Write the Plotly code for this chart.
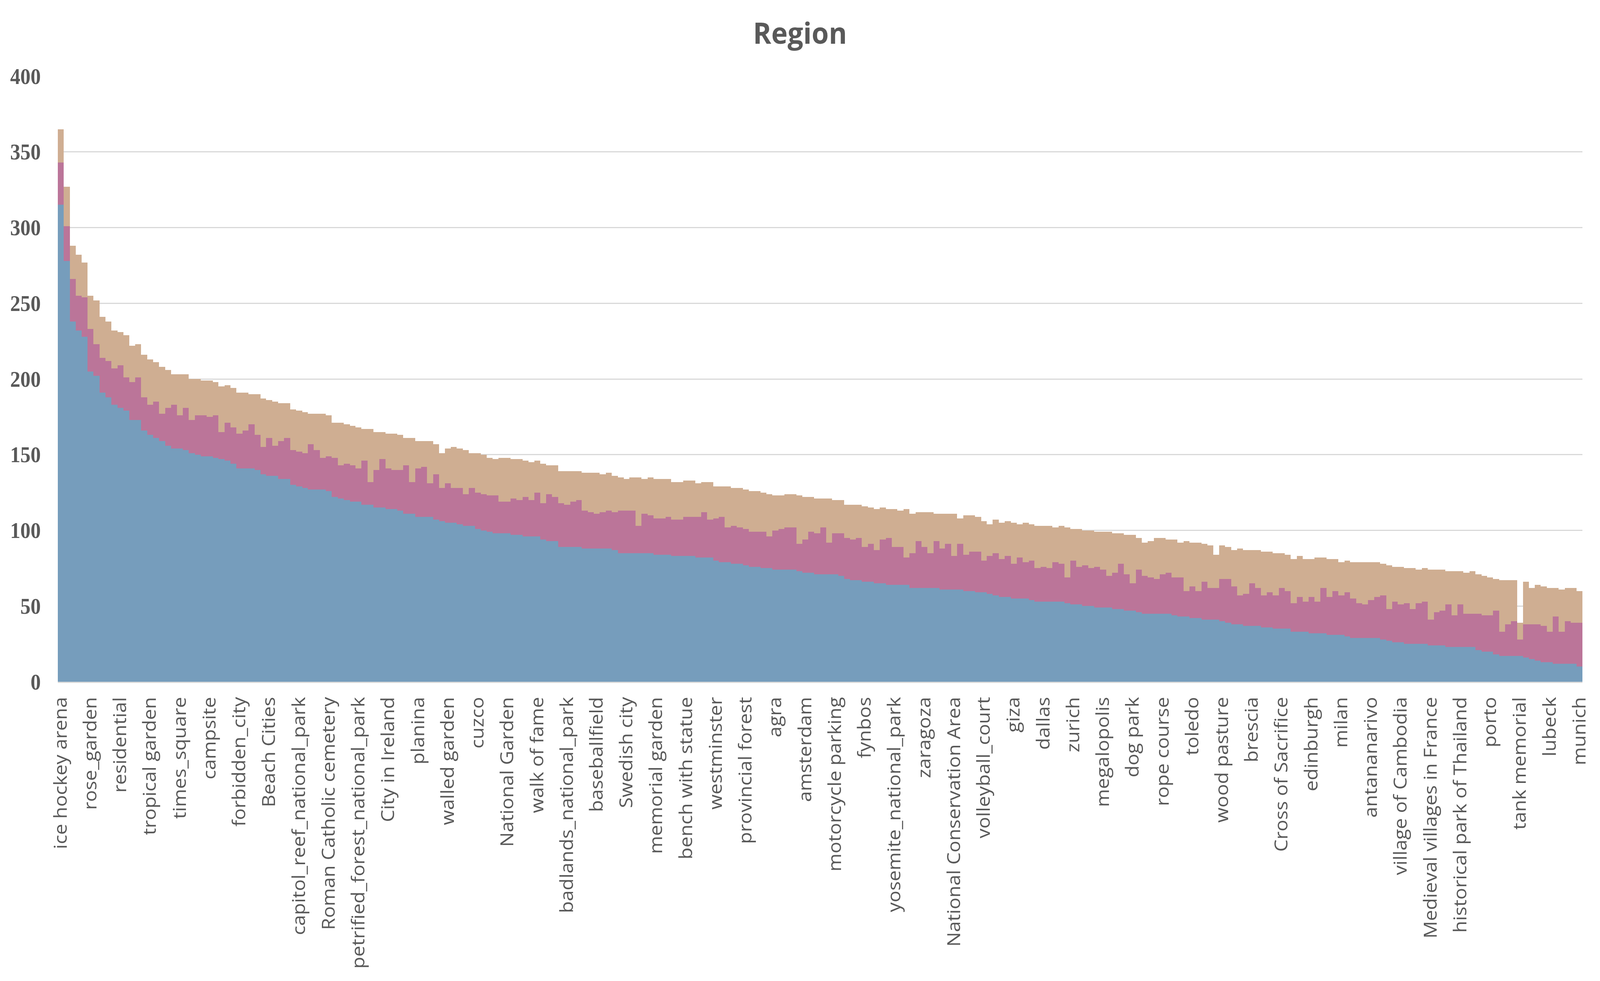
import plotly.graph_objects as go

# ---- data ----
blue = [315, 278, 238, 232, 228, 205, 202, 191, 188, 183,
        181, 179, 173, 173, 166, 163, 161, 159, 156, 154,
        154, 153, 151, 150, 149, 149, 148, 147, 146, 144,
        141, 141, 141, 140, 137, 136, 136, 134, 134, 130,
        129, 128, 127, 127, 127, 126, 122, 121, 120, 119,
        119, 117, 117, 115, 115, 114, 114, 113, 111, 111,
        109, 109, 109, 107, 106, 105, 105, 104, 103, 103,
        101, 100, 99, 98, 98, 98, 97, 97, 96, 96,
        96, 94, 93, 93, 89, 89, 89, 89, 88, 88,
        88, 88, 88, 87, 85, 85, 85, 85, 85, 85,
        84, 84, 84, 83, 83, 83, 83, 82, 82, 82,
        80, 79, 79, 78, 78, 77, 76, 76, 75, 75,
        74, 74, 74, 74, 73, 72, 72, 71, 71, 71,
        71, 70, 68, 67, 67, 66, 66, 65, 65, 64,
        64, 64, 64, 62, 62, 62, 62, 62, 61, 61,
        61, 61, 60, 60, 59, 59, 58, 57, 56, 56,
        55, 55, 55, 54, 53, 53, 53, 53, 53, 52,
        51, 51, 50, 50, 49, 49, 49, 48, 48, 47,
        47, 46, 45, 45, 45, 45, 45, 44, 43, 43,
        42, 42, 41, 41, 41, 40, 39, 38, 38, 37,
        37, 37, 36, 36, 35, 35, 35, 33, 33, 33,
        32, 32, 32, 31, 31, 31, 30, 29, 29, 29,
        29, 29, 28, 27, 26, 26, 25, 25, 25, 25,
        24, 24, 24, 23, 23, 23, 23, 23, 21, 20,
        20, 18, 17, 17, 17, 17, 16, 15, 14, 13,
        13, 12, 12, 12, 12, 10]

pink = [28, 23, 28, 23, 26, 28, 21, 23, 24, 24,
        28, 22, 25, 28, 22, 20, 24, 18, 25, 29,
        22, 28, 22, 26, 27, 26, 28, 18, 25, 24,
        23, 25, 29, 23, 18, 25, 20, 25, 27, 23,
        23, 23, 30, 26, 21, 23, 26, 22, 24, 24,
        22, 29, 15, 25, 32, 27, 26, 27, 32, 21,
        32, 33, 22, 30, 22, 26, 23, 24, 21, 25,
        24, 24, 24, 25, 21, 21, 24, 23, 26, 24,
        29, 24, 31, 29, 29, 28, 30, 31, 25, 24,
        23, 24, 25, 25, 28, 28, 28, 18, 26, 25,
        24, 24, 25, 24, 24, 26, 26, 27, 30, 25,
        28, 30, 23, 25, 24, 24, 23, 23, 24, 21,
        26, 27, 28, 28, 18, 22, 27, 27, 31, 21,
        27, 28, 27, 27, 28, 23, 25, 22, 29, 31,
        25, 25, 18, 23, 31, 27, 23, 31, 27, 30,
        22, 30, 24, 26, 27, 21, 25, 28, 25, 27,
        23, 27, 24, 26, 22, 23, 22, 26, 25, 17,
        29, 25, 27, 25, 27, 25, 21, 24, 30, 24,
        18, 28, 25, 24, 23, 26, 27, 25, 26, 17,
        21, 18, 25, 21, 21, 28, 29, 25, 19, 21,
        28, 25, 21, 23, 22, 27, 25, 19, 23, 20,
        24, 21, 30, 25, 29, 26, 29, 26, 23, 22,
        25, 27, 29, 21, 27, 25, 27, 23, 27, 28,
        17, 22, 23, 28, 21, 28, 22, 22, 24, 24,
        24, 29, 16, 21, 23, 11, 22, 23, 24, 24,
        20, 31, 21, 28, 27, 29]

tan = [22, 26, 22, 27, 23, 22, 29, 27, 26, 25,
       22, 28, 24, 22, 28, 30, 26, 31, 25, 20,
       27, 22, 27, 24, 23, 24, 22, 30, 25, 26,
       27, 25, 20, 27, 32, 25, 29, 25, 23, 27,
       27, 27, 20, 24, 29, 27, 23, 28, 26, 26,
       27, 21, 35, 25, 18, 23, 24, 23, 18, 29,
       18, 17, 28, 20, 23, 23, 27, 26, 29, 23,
       26, 26, 25, 24, 29, 29, 26, 27, 24, 25,
       21, 26, 19, 21, 21, 22, 20, 19, 25, 26,
       27, 25, 25, 24, 22, 21, 22, 32, 23, 25,
       26, 26, 25, 25, 25, 24, 24, 22, 20, 25,
       21, 20, 27, 25, 26, 26, 27, 27, 26, 28,
       23, 22, 22, 22, 32, 28, 23, 23, 19, 29,
       22, 22, 22, 23, 22, 27, 24, 27, 21, 19,
       25, 24, 32, 26, 19, 23, 27, 18, 23, 20,
       28, 17, 26, 24, 23, 26, 21, 22, 24, 23,
       27, 22, 26, 24, 28, 27, 28, 23, 25, 33,
       21, 25, 23, 25, 23, 25, 29, 26, 20, 26,
       32, 21, 22, 24, 27, 24, 22, 25, 23, 33,
       29, 32, 25, 28, 22, 22, 21, 24, 31, 29,
       22, 25, 29, 27, 28, 23, 24, 29, 27, 28,
       25, 29, 20, 25, 21, 22, 21, 24, 27, 28,
       25, 23, 21, 29, 23, 25, 23, 27, 22, 22,
       33, 28, 27, 22, 29, 22, 27, 28, 26, 26,
       25, 21, 34, 29, 27, 11, 28, 24, 26, 26,
       29, 19, 28, 22, 23, 21]

# every 5th category is labelled on the axis
tick_labels = ["ice hockey arena", "rose_garden", "residential", "tropical garden",
               "times_square", "campsite", "forbidden_city", "Beach Cities",
               "capitol_reef_national_park", "Roman Catholic cemetery",
               "petrified_forest_national_park", "City in Ireland", "planina",
               "walled garden", "cuzco", "National Garden", "walk of fame",
               "badlands_national_park", "baseballfield", "Swedish city",
               "memorial garden", "bench with statue", "westminster",
               "provincial forest", "agra", "amsterdam", "motorcycle parking",
               "fynbos", "yosemite_national_park", "zaragoza",
               "National Conservation Area", "volleyball_court", "giza", "dallas",
               "zurich", "megalopolis", "dog park", "rope course", "toledo",
               "wood pasture", "brescia", "Cross of Sacrifice", "edinburgh", "milan",
               "antananarivo", "village of Cambodia", "Medieval villages in France",
               "historical park of Thailand", "porto", "tank memorial", "lubeck",
               "munich"]
label_step = 5

W, H = 4400, 2511

x = list(range(len(blue)))
tickvals = x[::label_step]

fig = go.Figure()
for vals, col in [(blue, "#769DBC"), (pink, "#BB7599"), (tan, "#CFAE92")]:
    fig.add_trace(go.Bar(x=x, y=vals, marker=dict(color=col, line=dict(width=0)),
                         showlegend=False))

fig.update_layout(
    width=W, height=H,
    barmode="stack", bargap=0,
    paper_bgcolor="white", plot_bgcolor="white",
    margin=dict(l=159, r=48, t=195, b=766),
    title=dict(text="<b>Region</b>", x=0.5, xanchor="center", y=1 - 85 / H,
               yanchor="middle",
               font=dict(family="Open Sans", size=76, color="#595959")),
)
fig.update_xaxes(
    range=[-0.5, len(blue) - 0.5],
    tickmode="array", tickvals=tickvals, ticktext=tick_labels,
    tickangle=-90, ticks="", ticklabelstandoff=16,
    tickfont=dict(family="Open Sans", size=50, color="#595959"),
    showgrid=False, zeroline=False,
    showline=True, linecolor="#D9D9D9", linewidth=3,
)
fig.update_yaxes(
    range=[0, 400], tickmode="array", tickvals=list(range(0, 401, 50)),
    ticks="", ticklabelstandoff=46,
    tickfont=dict(family="Liberation Serif", size=56, color="#595959", weight="bold"),
    showgrid=True, gridcolor="#D9D9D9", gridwidth=3, zeroline=False,
)

# make the fixed-size figure fit the browser viewport exactly
fit_js = """
(function(){
  var gd = document.getElementById('{plot_id}');
  var de = document.documentElement, b = document.body;
  de.style.margin = '0'; de.style.padding = '0'; de.style.overflow = 'hidden';
  b.style.margin = '0'; b.style.padding = '0'; b.style.overflow = 'hidden';
  b.style.background = 'white';
  var sx = window.innerWidth / %d, sy = window.innerHeight / %d;
  gd.style.transformOrigin = '0 0';
  gd.style.transform = 'scale(' + sx + ',' + sy + ')';
})();
""" % (W, H)

fig.write_html("out.html", post_script=fit_js, config={"displayModeBar": False})
